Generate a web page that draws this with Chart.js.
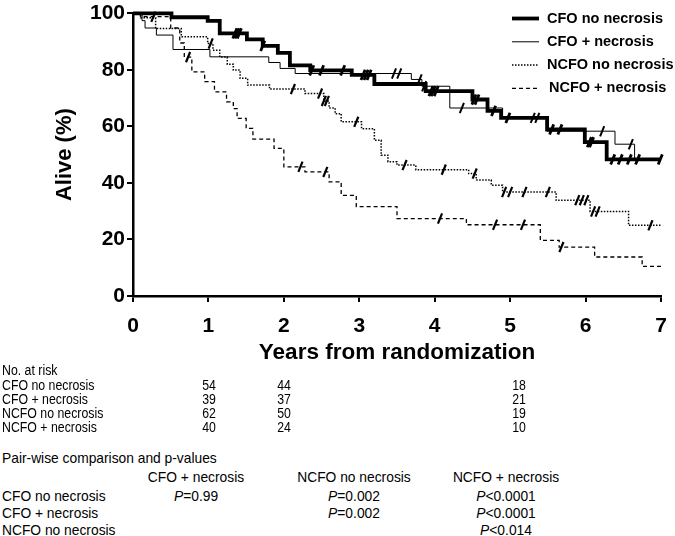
<!DOCTYPE html>
<html>
<head>
<meta charset="utf-8">
<script src="https://cdn.jsdelivr.net/npm/chart.js@4.4.1/dist/chart.umd.min.js"></script>
<style>
body { margin: 0; background: #fff; font-family: "Liberation Sans", Arial, sans-serif; }
#wrap { position: relative; width: 675px; height: 536px; overflow: hidden; }
#km { position: absolute; left: 0; top: 0; }
.t { position: absolute; white-space: nowrap; color: #000; line-height: 16px; transform-origin: 0 50%; }
</style>
</head>
<body>
<div id="wrap">
  <canvas id="km" width="675" height="370"></canvas>
  <div id="table"></div>
</div>
<script>
// Kaplan-Meier steps: time in years, survival in %
const groupNames = ['CFO no necrosis', 'CFO + necrosis', 'NCFO no necrosis', 'NCFO + necrosis'];

const cfoNoTimes = [0, 0.51, 0.99, 1.15, 1.51, 1.72, 1.92, 2.08, 2.35, 2.9, 3.2, 3.88, 4.5, 4.7, 4.88, 5.49, 5.99, 6.28, 7];
const cfoNoSurv  = [100, 98.6, 97.3, 92.9, 90.8, 88.5, 86, 81.6, 79.8, 78.2, 75, 72.5, 69.5, 65.5, 63, 58.9, 54.4, 48.3, 48.3];

const cfoNecTimes = [0, 0.12, 0.16, 0.31, 0.53, 1.02, 1.8, 1.95, 2.15, 3.69, 3.83, 4.2, 4.9, 5.49, 6.39, 6.65, 7];
const cfoNecSurv  = [100, 97.4, 94.8, 92.3, 87.2, 84.6, 82.6, 80.5, 78.7, 76.6, 74.2, 66.5, 63, 58.3, 53.7, 48.6, 48.6];

const ncfoNoTimes = [0, 0.1, 0.3, 0.64, 0.99, 1.06, 1.15, 1.25, 1.33, 1.42, 1.52, 1.81, 2.28, 2.53, 2.6, 2.68, 2.76, 3.03, 3.2, 3.29, 3.38, 3.5, 3.75, 4.45, 4.55, 4.75, 4.9, 5.61, 6.06, 6.57, 7];
const ncfoNoSurv  = [100, 98.4, 94.6, 91.7, 89.3, 86.9, 84.5, 82, 79.9, 77, 74.6, 73.2, 71.6, 69, 66.5, 64.5, 61.6, 59.2, 55.1, 49.8, 47.5, 46.3, 44.7, 43.3, 41, 39.2, 36.8, 33.9, 29.9, 25, 25];

const ncfoNecTimes = [0, 0.1, 0.5, 0.62, 0.68, 0.78, 0.95, 1.08, 1.24, 1.33, 1.38, 1.5, 1.59, 1.87, 2.0, 2.28, 2.6, 2.76, 2.96, 3.5, 4.42, 5.4, 5.65, 6.12, 6.75, 7];
const ncfoNecSurv  = [100, 98.8, 94.8, 89.5, 84.5, 79.3, 75.8, 72.2, 68.7, 66.3, 62.8, 59.3, 55.5, 52.2, 45.7, 43.9, 40.4, 35.6, 31.6, 27.4, 25.2, 19.7, 17.3, 13.8, 10.5, 10.5];

// censored observations (tick marks), years
const cfoNoCensor  = [1.35, 1.38, 1.41, 1.72, 2.37, 2.5, 2.78, 3.05, 3.09, 3.13, 3.95, 3.98, 4.02, 4.52, 4.56, 4.78, 4.97, 5.55, 5.66, 6.05, 6.08, 6.36, 6.46, 6.58, 6.69, 6.99];
const cfoNecCensor = [3.46, 3.53, 3.8, 3.86, 4.36, 5.3, 5.36, 6.22, 6.6];
const ncfoNoCensor = [1.03, 2.12, 2.48, 2.53, 2.57, 2.96, 3.6, 4.12, 4.53, 4.92, 5.0, 5.19, 5.5, 5.89, 5.95, 6.01, 6.1, 6.16, 6.86];
const ncfoNecCensor = [0.27, 0.73, 2.22, 2.55, 4.07, 4.8, 5.17, 5.68];

const xTicks = [0, 1, 2, 3, 4, 5, 6, 7];
const yTicks = [0, 20, 40, 60, 80, 100];

// numbers at risk
const atRiskCounts = [
  [54, 44, 18],
  [39, 37, 21],
  [62, 50, 19],
  [40, 24, 10]
];

// pair-wise comparisons
const pairCols = ['CFO + necrosis', 'NCFO no necrosis', 'NCFO + necrosis'];
const pairRows = ['CFO no necrosis', 'CFO + necrosis', 'NCFO no necrosis'];
const pairValues = [
  ['=0.99', '=0.002', '<0.0001'],
  ['', '=0.002', '<0.0001'],
  ['', '', '<0.014']
];

function survAt(times, surv, t) {
  let s = surv[0];
  for (let i = 0; i < times.length; i++) {
    if (times[i] <= t) s = surv[i];
  }
  return s;
}

function toPoints(times, surv) {
  return times.map((t, i) => ({ x: t, y: surv[i] }));
}

function censorPoints(censor, times, surv) {
  return censor.map(t => ({ x: t, y: survAt(times, surv, t) }));
}

const curves = [
  { times: cfoNoTimes, surv: cfoNoSurv, censor: cfoNoCensor, width: 3.8, dash: [], cw: 2.8 },
  { times: cfoNecTimes, surv: cfoNecSurv, censor: cfoNecCensor, width: 1, dash: [], cw: 2 },
  { times: ncfoNoTimes, surv: ncfoNoSurv, censor: ncfoNoCensor, width: 1.5, dash: [1.5, 1.5], cw: 2.2 },
  { times: ncfoNecTimes, surv: ncfoNecSurv, censor: ncfoNecCensor, width: 1.3, dash: [4, 3], cw: 2.2 }
];

const datasets = [];
curves.forEach((c, i) => {
  datasets.push({
    label: groupNames[i],
    data: toPoints(c.times, c.surv),
    showLine: true,
    stepped: true,
    borderColor: '#000',
    borderWidth: c.width,
    borderDash: c.dash,
    pointRadius: 0,
    clip: false
  });
});
curves.forEach((c, i) => {
  datasets.push({
    label: groupNames[i] + ' censored',
    data: censorPoints(c.censor, c.times, c.surv),
    showLine: false,
    pointStyle: 'line',
    rotation: -68,
    pointRadius: 5.5,
    borderColor: '#000',
    pointBorderWidth: c.cw,
    clip: false
  });
});

const legendPlugin = {
  id: 'kmLegend',
  afterDraw(chart) {
    const ctx = chart.ctx;
    ctx.save();
    ctx.fillStyle = '#000';
    ctx.strokeStyle = '#000';
    ctx.font = 'bold 14.5px "Liberation Sans", Arial, sans-serif';
    ctx.textBaseline = 'middle';
    groupNames.forEach((name, i) => {
      const ds = chart.data.datasets[i];
      const y = 18.5 + i * 23.3;
      ctx.beginPath();
      ctx.lineWidth = ds.borderWidth;
      ctx.setLineDash(ds.borderDash);
      ctx.moveTo(512, y);
      ctx.lineTo(539, y);
      ctx.stroke();
      ctx.setLineDash([]);
      ctx.fillText(name, i === 3 ? 549 : 547, y);
    });
    ctx.restore();
  }
};

const tickFont = { family: '"Liberation Sans", Arial, sans-serif', size: 21, weight: 'bold' };
const axisGrid = { display: true, drawOnChartArea: false, drawTicks: true, tickLength: 6, color: '#000', lineWidth: 2 };
const axisBorder = { display: true, color: '#000', width: 2.5 };

new Chart(document.getElementById('km'), {
  type: 'scatter',
  data: { datasets },
  options: {
    responsive: false,
    animation: false,
    layout: { padding: { top: 13.3, right: 14, left: 0, bottom: 0 } },
    plugins: { legend: { display: false }, tooltip: { enabled: false } },
    scales: {
      x: {
        type: 'linear', min: 0, max: 7,
        afterBuildTicks(s) { s.ticks = xTicks.map(v => ({ value: v })); },
        ticks: { color: '#000', font: tickFont, padding: 12, maxRotation: 0 },
        grid: axisGrid,
        border: axisBorder,
        title: { display: true, text: 'Years from randomization', color: '#000',
          font: { family: tickFont.family, size: 22.5, weight: 'bold' }, padding: { top: 0, bottom: 4 } },
        afterFit(s) { s.height = 74; s.paddingLeft = 0; s.paddingRight = 0; }
      },
      y: {
        min: 0, max: 100,
        afterBuildTicks(s) { s.ticks = yTicks.map(v => ({ value: v })); },
        ticks: { color: '#000', font: tickFont, padding: 2 },
        grid: axisGrid,
        border: axisBorder,
        title: { display: true, text: 'Alive (%)', color: '#000',
          font: { family: tickFont.family, size: 22, weight: 'bold' }, padding: { top: 52, bottom: 0 } },
        afterFit(s) { s.width = 133; s.paddingTop = 0; s.paddingBottom = 0; }
      }
    }
  },
  plugins: [legendPlugin]
});

// table below the chart (narrowed Arial to look like the original)
const table = document.getElementById('table');
function addText(txt, x, y, size, squeeze, center) {
  const d = document.createElement('div');
  d.className = 't';
  d.style.left = x + 'px';
  d.style.top = (y - 8) + 'px';
  d.style.fontSize = size + 'px';
  d.style.transform = (center ? 'translateX(-50%) ' : '') + 'scaleX(' + squeeze + ')';
  if (center) d.style.transformOrigin = '50% 50%';
  d.innerHTML = txt;
  table.appendChild(d);
}
const riskColX = [209, 283.5, 518.5];
addText('No. at risk', 2, 370, 14, 0.88);
groupNames.forEach((g, i) => {
  const y = 384.5 + i * 14.3;
  addText(g, 2, y, 14, 0.88);
  atRiskCounts[i].forEach((n, j) => addText(String(n), riskColX[j], y, 14, 0.88, true));
});
const pairColX = [196, 354, 506];
addText('Pair-wise comparison and p-values', 2, 458, 15, 0.92);
pairCols.forEach((c, j) => addText(c, pairColX[j], 477, 15, 0.92, true));
pairRows.forEach((r, i) => {
  const y = 496 + i * 17;
  addText(r, 2, y, 15, 0.92);
  pairValues[i].forEach((v, j) => {
    if (v) addText('<i>P</i>' + v.replace('<', '&lt;'), pairColX[j], y, 15, 0.92, true);
  });
});
</script>
</body>
</html>
